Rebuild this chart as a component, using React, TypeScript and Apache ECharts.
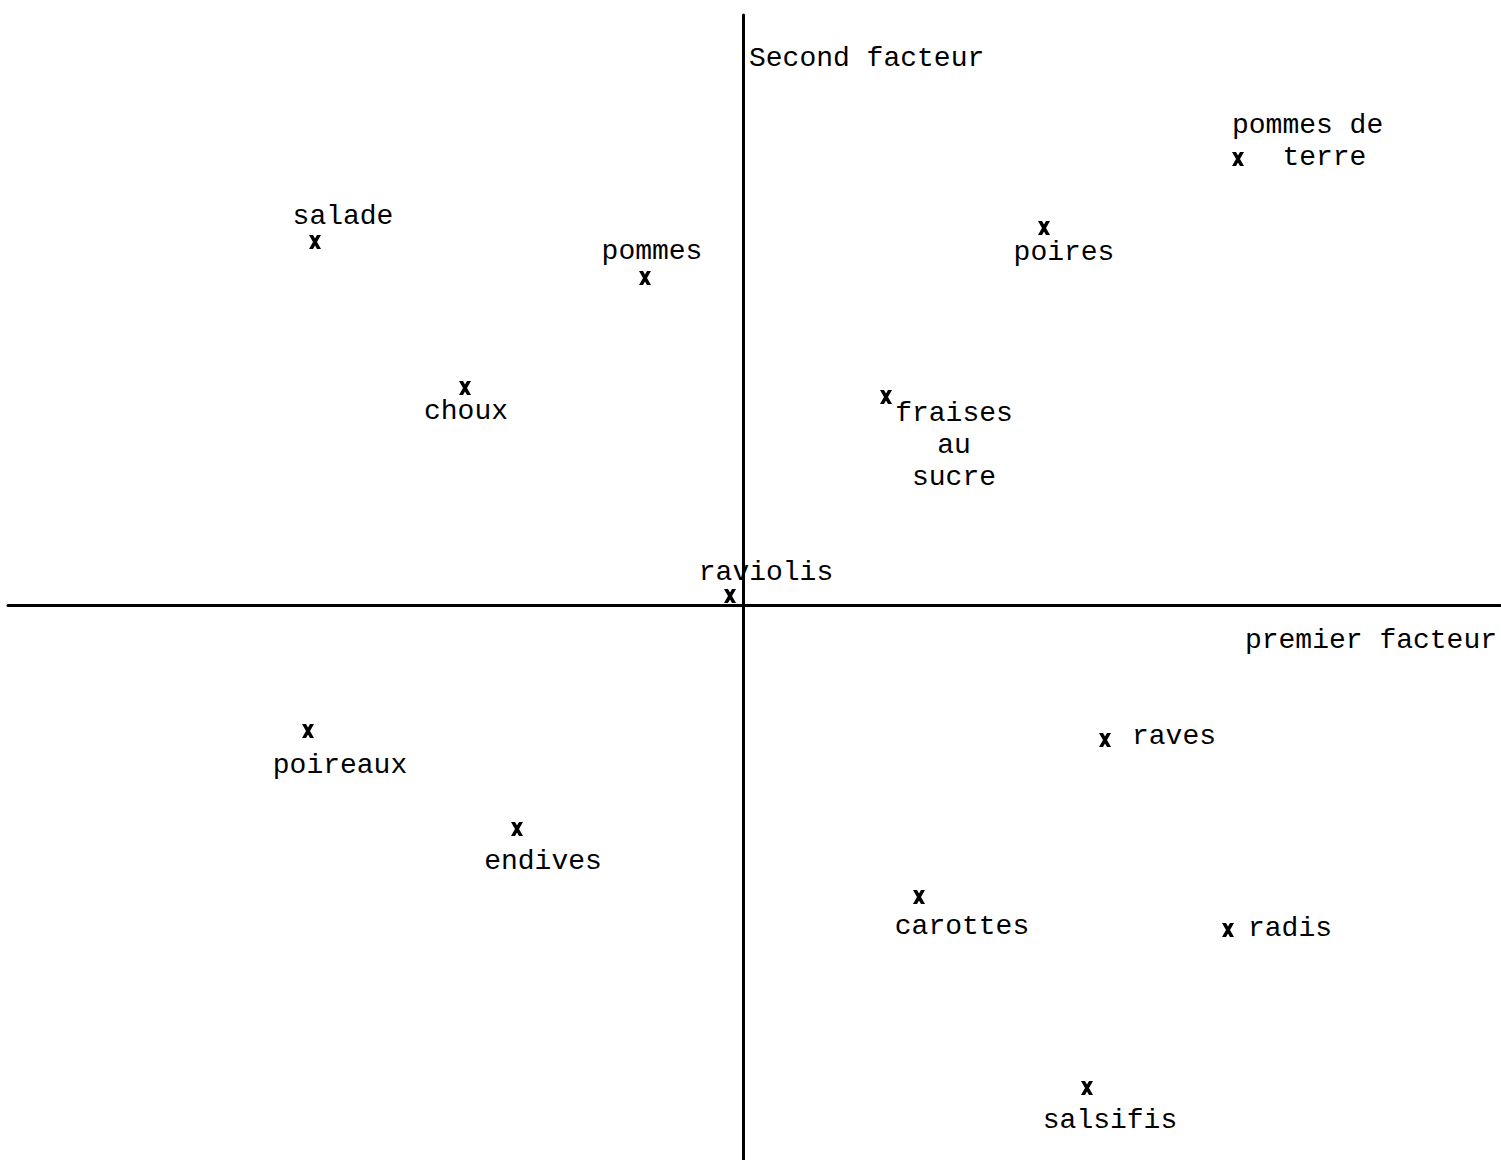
import React, { useEffect, useRef } from "react";
import * as echarts from "echarts";

// Factor scores (arbitrary units)
const names = [
  "salade",
  "pommes",
  "poires",
  "pommes de\n   terre",
  "choux",
  "fraises\nau\nsucre",
  "raviolis",
  "poireaux",
  "endives",
  "raves",
  "carottes",
  "radis",
  "salsifis",
];
const factor1 = [-4.28, -0.98, 3.01, 4.95, -2.78, 1.43, -0.13, -4.35, -2.26, 3.62, 1.76, 4.85, 3.44];
const factor2 = [3.63, 3.27, 3.77, 4.46, 2.17, 2.08, 0.09, -1.26, -2.24, -1.35, -2.92, -3.25, -4.83];

const xAxisName = "premier facteur";
const yAxisName = "Second facteur";

// label placement (style only)
const labelLayout: { [k: string]: { offset: number[]; align: string } } = {
  salade: { offset: [28, -26], align: "center" },
  pommes: { offset: [7, -27], align: "center" },
  poires: { offset: [20, 24], align: "center" },
  "pommes de\n   terre": { offset: [-6, -18], align: "left" },
  choux: { offset: [1, 23], align: "center" },
  "fraises\nau\nsucre": { offset: [68, 48], align: "center" },
  raviolis: { offset: [36, -24], align: "center" },
  poireaux: { offset: [32, 34], align: "center" },
  endives: { offset: [26, 32], align: "center" },
  raves: { offset: [27, -4], align: "left" },
  carottes: { offset: [43, 29], align: "center" },
  radis: { offset: [20, -2], align: "left" },
  salsifis: { offset: [23, 32], align: "center" },
};

const FONT = "Liberation Mono";

export default function App() {
  const ref = useRef<HTMLDivElement>(null);
  useEffect(() => {
    if (!ref.current) return;
    const chart = echarts.init(ref.current, null, { renderer: "svg" });
    const data = names.map((n, i) => {
      const l = labelLayout[n];
      return {
        value: [factor1[i], factor2[i]],
        name: n,
        label: {
          show: true,
          position: "inside",
          offset: l.offset,
          align: l.align,
          verticalAlign: "middle",
          formatter: n,
          color: "#000",
          fontFamily: FONT,
          fontSize: 28,
          lineHeight: 32,
        },
      };
    });
    chart.setOption({
      animation: false,
      backgroundColor: "#ffffff",
      grid: { left: 8, right: 1, top: 15, bottom: 0 },
      xAxis: {
        type: "value",
        min: -7.35,
        max: 7.57,
        axisLine: { onZero: true, lineStyle: { color: "#000", width: 3 } },
        axisTick: { show: false },
        axisLabel: { show: false },
        splitLine: { show: false },
        name: xAxisName,
        nameLocation: "end",
        nameGap: -3,
        nameTextStyle: {
          fontFamily: FONT,
          fontSize: 28,
          color: "#000",
          align: "right",
          verticalAlign: "top",
          padding: [21, 0, 0, 0],
        },
      },
      yAxis: {
        type: "value",
        min: -5.55,
        max: 5.9,
        axisLine: { onZero: true, lineStyle: { color: "#000", width: 3 } },
        axisTick: { show: false },
        axisLabel: { show: false },
        splitLine: { show: false },
        name: yAxisName,
        nameLocation: "end",
        nameGap: -29,
        nameTextStyle: {
          fontFamily: FONT,
          fontSize: 28,
          color: "#000",
          align: "left",
          verticalAlign: "top",
          padding: [0, 0, 0, 6],
        },
      },
      series: [
        {
          type: "scatter",
          symbol: "path://M0,0L4,0L12,14L8,14Z M8,0L12,0L4,14L0,14Z",
          symbolSize: [12, 14],
          itemStyle: { color: "#000", opacity: 1 },
          label: {
            fontFamily: FONT,
            fontSize: 28,
            color: "#000",
            lineHeight: 32,
          },
          data,
        },
      ],
    });
    return () => chart.dispose();
  }, []);
  return (
    <div
      ref={ref}
      style={{ position: "fixed", left: 0, top: 0, width: 1501, height: 1160, background: "#fff" }}
    />
  );
}
